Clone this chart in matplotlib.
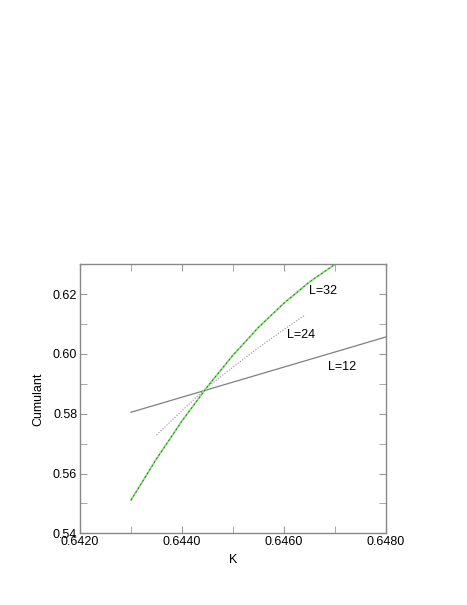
import matplotlib
matplotlib.use('Agg')
import matplotlib.pyplot as plt
from matplotlib.ticker import MultipleLocator

plt.rcParams['font.family'] = ['Liberation Sans', 'DejaVu Sans']

# date
k_12 = [0.6430, 0.6480]
u_12 = [0.5805, 0.6057]

k_24 = [0.6435, 0.6440, 0.64448, 0.6450, 0.6455, 0.6460, 0.64641]
u_24 = [0.5729, 0.5810, 0.5887, 0.5956, 0.6021, 0.6082, 0.6130]

k_32 = [0.6430, 0.6435, 0.6440, 0.6445, 0.6450, 0.6455, 0.6460, 0.6465, 0.6470]
u_32 = [0.5511, 0.5649, 0.5776, 0.5891, 0.5996, 0.6089, 0.6170, 0.6241, 0.6300]

etichete = ['L=12', 'L=24', 'L=32']
pozitii = [(0.64714, 0.5958), (0.64633, 0.6063), (0.64677, 0.6212)]

fig = plt.figure(figsize=(4.67, 6.05), dpi=100)
ax = fig.add_axes([80 / 467, 1 - 533.3 / 605, 306 / 467, 269 / 605])

ax.plot(k_12, u_12, color='#808080', lw=0.9)
ax.plot(k_24, u_24, color='#909090', lw=0.8, linestyle=(0, (1, 1.5)))
ax.plot(k_32, u_32, color='#80e070', lw=1.3)
ax.plot(k_32, u_32, color='#303030', lw=0.45, linestyle=(0, (3, 4)))

for txt, (x, y) in zip(etichete, pozitii):
    ax.text(x, y, txt, fontsize=9, ha='center', va='center')

ax.set_xlim(0.6420, 0.6480)
ax.set_ylim(0.54, 0.63)
ax.xaxis.set_major_locator(MultipleLocator(0.002))
ax.xaxis.set_minor_locator(MultipleLocator(0.001))
ax.yaxis.set_major_locator(MultipleLocator(0.02))
ax.yaxis.set_minor_locator(MultipleLocator(0.01))
ax.xaxis.set_major_formatter(plt.FormatStrFormatter('%.4f'))
ax.yaxis.set_major_formatter(plt.FormatStrFormatter('%.2f'))
ax.tick_params(which='both', direction='in', top=True, right=True,
               color='#999999', labelsize=9, pad=2)
ax.tick_params(which='major', length=5)
ax.tick_params(which='minor', length=5)
for s in ax.spines.values():
    s.set_color('#888888')
    s.set_linewidth(1)

ax.set_xlabel('K', fontsize=9, labelpad=4)
ax.set_ylabel('Cumulant', fontsize=9, labelpad=6)

plt.savefig('out.png', dpi=100)
